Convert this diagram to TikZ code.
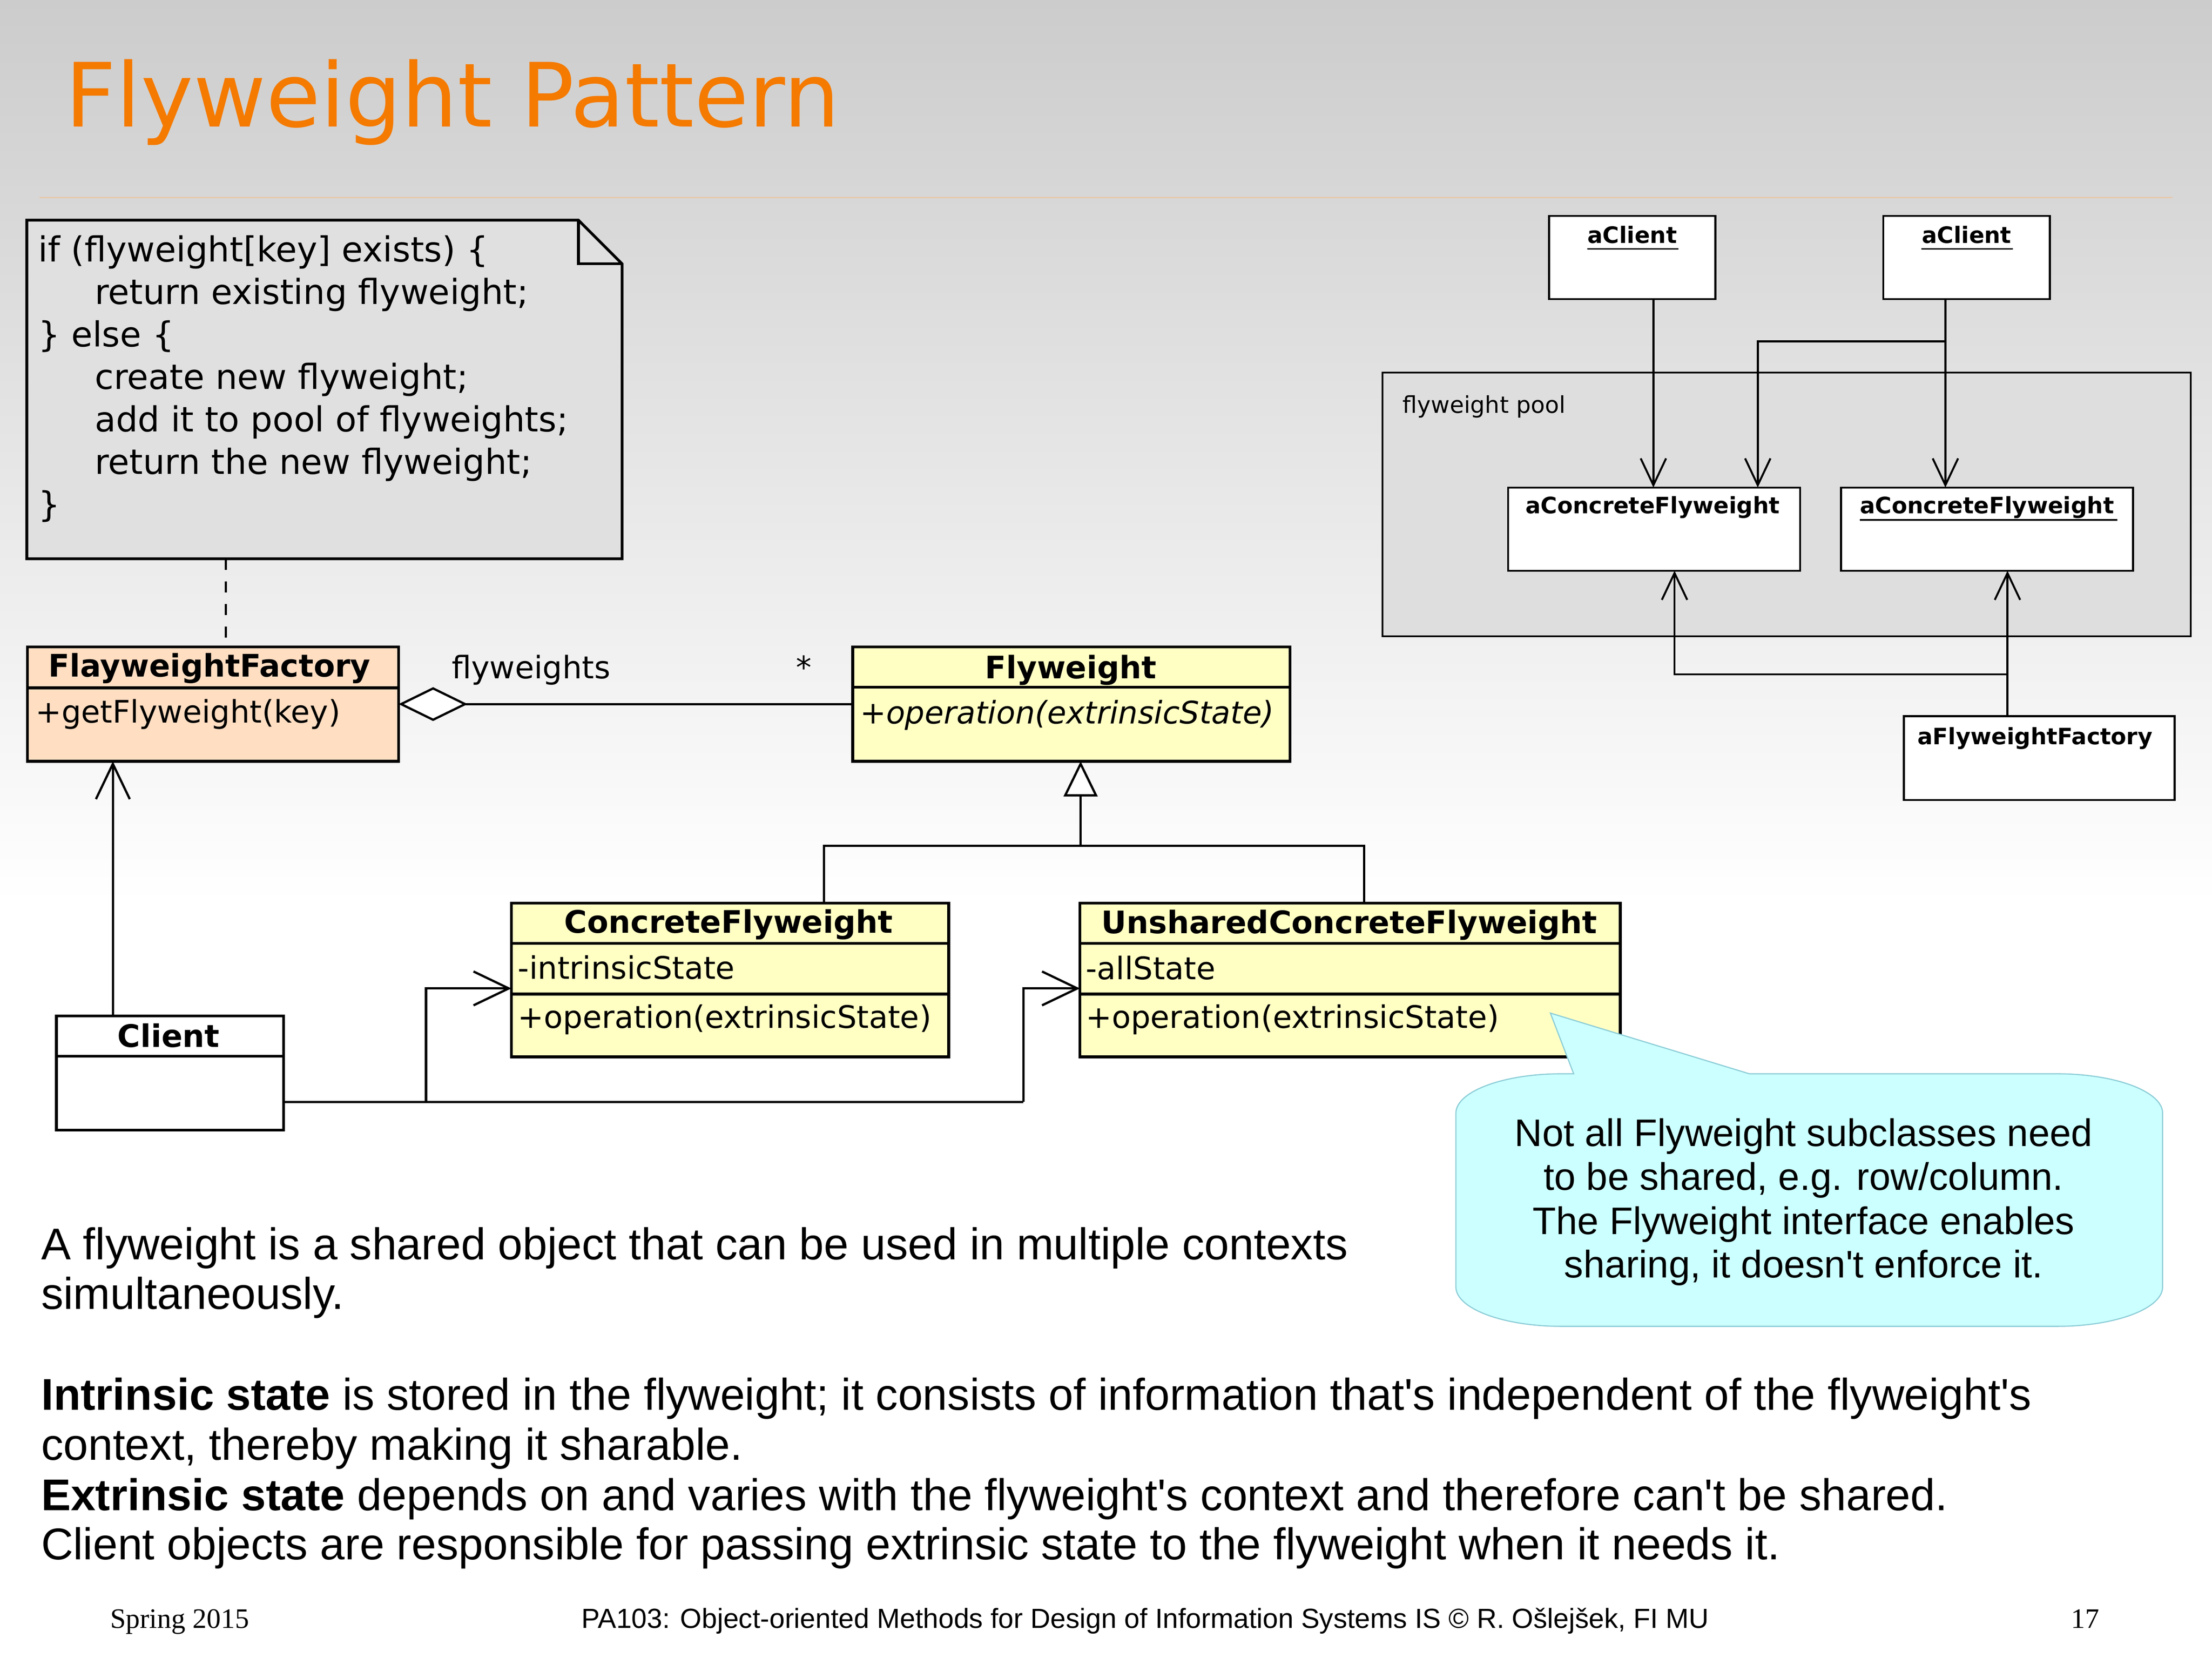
\documentclass[tikz,border=0pt]{standalone}
\usepackage{fontspec}
\setmainfont{Liberation Sans}[Ligatures=TeXOff]
\newfontfamily\dvfont{DejaVu Sans}[Ligatures=TeXOff]
\newfontfamily\serfont{Liberation Serif}[Ligatures=TeXOff]
\usetikzlibrary{arrows.meta,calc}
\definecolor{peach}{RGB}{255,222,194}
\definecolor{lyellow}{RGB}{255,255,196}
\definecolor{notegray}{RGB}{224,224,224}
\definecolor{poolgray}{RGB}{222,222,222}
\definecolor{bubblefill}{RGB}{204,255,255}
\definecolor{bubbleline}{RGB}{140,205,215}
\definecolor{titleorange}{RGB}{245,122,0}
\definecolor{rulecol}{RGB}{232,200,170}
\definecolor{topgray}{RGB}{204,204,204}
\begin{document}
\begin{tikzpicture}[x=1pt,y=-1pt,
  box/.style={draw, line width=2pt, inner sep=0pt, outer sep=0pt, anchor=north west},
  obj/.style={draw, line width=1.4pt, fill=white, inner sep=0pt, outer sep=0pt, anchor=north west},
  cname/.style={font=\dvfont\bfseries\fontsize{22}{26}\selectfont, anchor=base, inner sep=0pt},
  cmem/.style={font=\dvfont\fontsize{22}{26}\selectfont, anchor=base west, inner sep=0pt},
  notetext/.style={font=\dvfont\fontsize{24.5}{30}\selectfont, anchor=base west, inner sep=0pt},
  oname/.style={font=\dvfont\bfseries\fontsize{16}{19}\selectfont, anchor=base, inner sep=0pt},
  body/.style={font=\fontsize{31.5}{35.5}\selectfont, anchor=base west, inner sep=0pt},
  bub/.style={font=\fontsize{27.2}{31}\selectfont, anchor=base, inner sep=0pt},
  conn/.style={line width=1.6pt},
  oconn/.style={line width=1.4pt},
  divider/.style={line width=2pt},
  bigbarb/.tip={Straight Barb[length=25pt,width=24pt]},
  smallbarb/.tip={Straight Barb[length=19pt,width=18pt]},
]
\useasboundingbox (0,0) rectangle (1568,1175);
% background
\shade[top color=topgray, bottom color=white] (0,0) rectangle (1568,640);
\fill[white] (0,640) rectangle (1568,1175);
\draw[line width=0.8pt, rulecol] (28,140) -- (1540,140);

% title
\node[font=\dvfont\fontsize{62.9}{70}\selectfont, text=titleorange, anchor=base west, inner sep=0pt] (title) at (46,90) {Flyweight Pattern};

% note
\node[inner sep=0pt, outer sep=0pt, minimum width=422pt, minimum height=240pt, anchor=north west] (note) at (19,156) {};
\draw[line width=2pt, fill=notegray, line join=miter] (note.north west) -- ($(note.north east)+(-31,0)$) -- ($(note.north east)+(0,31)$) -- (note.south east) -- (note.south west) -- cycle;
\draw[line width=2pt] ($(note.north east)+(-31,0)$) -- ($(note.north east)+(-31,31)$) -- ($(note.north east)+(0,31)$);
\node[notetext] (nl1) at (27,185.6) {if (flyweight[key] exists) \{};
\node[notetext] (nl2) at (67,215.7) {return existing flyweight;};
\node[notetext] (nl3) at (27,245.8) {\} else \{};
\node[notetext] (nl4) at (67,275.9) {create new flyweight;};
\node[notetext] (nl5) at (67,306) {add it to pool of flyweights;};
\node[notetext] (nl6) at (67,336.1) {return the new flyweight;};
\node[notetext] (nl7) at (27,366.2) {\}};

% class boxes
\node[box, fill=peach, minimum width=263pt, minimum height=81pt] (fac) at (19.5,458.5) {};
\draw[divider] ($(fac.north west)+(0,29)$) -- ($(fac.north east)+(0,29)$);
\node[cname] (facname) at (148.5,479.5) {FlayweightFactory};
\node[cmem] (facop) at (25,512.4) {+getFlyweight(key)};

\node[box, fill=lyellow, minimum width=310pt, minimum height=81pt] (fw) at (604.5,458.5) {};
\draw[divider] ($(fw.north west)+(0,28.5)$) -- ($(fw.north east)+(0,28.5)$);
\node[cname] (fwname) at (759,480.8) {Flyweight};
\node[cmem] (fwop) at (609.5,513) {+\textit{operation(extrinsicState)}};

\node[box, fill=lyellow, minimum width=310pt, minimum height=109pt] (cf) at (362.5,640) {};
\draw[divider] ($(cf.north west)+(0,28.5)$) -- ($(cf.north east)+(0,28.5)$);
\draw[divider] ($(cf.north west)+(0,64.5)$) -- ($(cf.north east)+(0,64.5)$);
\node[cname] (cfname) at (516.5,661.3) {ConcreteFlyweight};
\node[cmem] (cfattr) at (367,693.8) {-intrinsicState};
\node[cmem] (cfop) at (367,728.5) {+operation(extrinsicState)};

\node[box, fill=lyellow, minimum width=383pt, minimum height=109pt] (ucf) at (765.5,640) {};
\draw[divider] ($(ucf.north west)+(0,28.5)$) -- ($(ucf.north east)+(0,28.5)$);
\draw[divider] ($(ucf.north west)+(0,64.5)$) -- ($(ucf.north east)+(0,64.5)$);
\node[cname] (ucfname) at (956.5,661.5) {UnsharedConcreteFlyweight};
\node[cmem] (ucfattr) at (769.5,694) {-allState};
\node[cmem] (ucfop) at (769.5,728.5) {+operation(extrinsicState)};

\node[box, fill=white, minimum width=161pt, minimum height=81pt] (client) at (40,720) {};
\draw[divider] ($(client.north west)+(0,28.5)$) -- ($(client.north east)+(0,28.5)$);
\node[cname] (clientname) at (119.5,742) {Client};

% connectors left
\draw[line width=1.6pt, dash pattern=on 8pt off 8pt] ($(note.south west)+(141,0)$) -- ($(fac.north west)+(140.5,0)$);
\draw[conn, {Diamond[fill=white,length=49pt,width=24pt]}-] ($(fac.north east)+(0,40.5)$) -- ($(fw.north west)+(0,40.5)$);
\node[cmem] (lblfw) at (320,481) {flyweights};
\node[cmem] (lblstar) at (564,481) {*};
\draw[conn, -{bigbarb}] ($(client.north west)+(40,0)$) -- ($(fac.south west)+(60.5,0)$);
\coordinate (g) at (766,599.5);
\draw[conn, -{Triangle[fill=white,length=25pt,width=24pt]}] (g) -- (g |- fw.south);
\coordinate (gl) at (584,599.5);
\coordinate (gr) at (967,599.5);
\draw[conn] (gl |- cf.north) -- (gl) -- (gr) -- (gr |- ucf.north);
\coordinate (j1) at (302,781);
\coordinate (j2) at (725.5,781);
\draw[conn] ($(client.north east)+(0,61)$) -- (j2);
\draw[conn, -{bigbarb}] (j1) |- ($(cf.north west)+(0,60.5)$);
\draw[conn, -{bigbarb}] (j2) |- ($(ucf.north west)+(0,60.5)$);

% speech bubble
\coordinate (tip) at (1099,718);
\draw[line width=0.8pt, bubbleline, fill=bubblefill] (1115.5,761) -- (tip) -- (1240,761) -- (1458,761)
  arc[start angle=-90, end angle=0, x radius=75, y radius=28] -- (1533,912)
  arc[start angle=0, end angle=90, x radius=75, y radius=28] -- (1107,940)
  arc[start angle=90, end angle=180, x radius=75, y radius=28] -- (1032,789)
  arc[start angle=180, end angle=270, x radius=75, y radius=28] -- cycle;
\node[bub] (b1) at (1278.5,812.3) {Not all Flyweight subclasses need};
\node[bub] (b2) at (1278.5,843.5) {to be shared, e.g. row/column.};
\node[bub] (b3) at (1278.5,874.8) {The Flyweight interface enables};
\node[bub] (b4) at (1278.5,905.6) {sharing, it doesn't enforce it.};

% right object diagram
\node[draw, line width=1.4pt, fill=poolgray, inner sep=0pt, outer sep=0pt, anchor=north west, minimum width=573pt, minimum height=187pt] (pool) at (980,264) {};
\node[font=\dvfont\fontsize{16.4}{19}\selectfont, anchor=base west, inner sep=0pt] (poollbl) at (994,292.7) {flyweight pool};
\node[obj, minimum width=118pt, minimum height=59pt] (ac1) at (1098,153) {};
\node[obj, minimum width=118pt, minimum height=59pt] (ac2) at (1335,153) {};
\node[obj, minimum width=207pt, minimum height=59pt] (acf1) at (1069,345.5) {};
\node[obj, minimum width=207pt, minimum height=59pt] (acf2) at (1305,345.5) {};
\node[obj, minimum width=192pt, minimum height=59.5pt] (afac) at (1349.5,507.5) {};
\node[oname] (ac1n) at (1157,172.4) {aClient};
\draw[line width=1pt] ($(ac1n.base west)+(0,4)$) -- ($(ac1n.base east)+(1,4)$);
\node[oname] (ac2n) at (1394,172.4) {aClient};
\draw[line width=1pt] ($(ac2n.base west)+(0,4)$) -- ($(ac2n.base east)+(1,4)$);
\node[oname] (acf1n) at (1171.5,364) {aConcreteFlyweight};
\node[oname] (acf2n) at (1408.5,364) {aConcreteFlyweight};
\draw[line width=1pt] ($(acf2n.base west)+(0,4.5)$) -- ($(acf2n.base east)+(2,4.5)$);
\node[oname] (afacn) at (1442.5,527.6) {aFlyweightFactory};

\draw[oconn, -{smallbarb}] ($(ac1.south west)+(74,0)$) -- ($(acf1.north west)+(103,0)$);
\draw[oconn, -{smallbarb}] ($(ac2.south west)+(44,0)$) -- ($(acf2.north west)+(74,0)$);
\coordinate (b1j) at (1379,242);
\draw[oconn, -{smallbarb}] (b1j) -| ($(acf1.north west)+(177,0)$);
\draw[oconn, -{smallbarb}] ($(afac.north west)+(73.5,0)$) -- ($(acf2.south west)+(118,0)$);
\coordinate (b2j) at (1423,478);
\draw[oconn, -{smallbarb}] (b2j) -| ($(acf1.south west)+(118,0)$);

% body text
\node[body] (t1) at (29,892.5) {A flyweight is a shared object that can be used in multiple contexts};
\node[body] (t2) at (29,927.9) {simultaneously.};
\node[body] (t3) at (29,999.4) {\textbf{Intrinsic state} is stored in the flyweight; it consists of information that's independent of the flyweight's};
\node[body] (t4) at (29,1034.7) {context, thereby making it sharable.};
\node[body] (t5) at (29,1070.4) {\textbf{Extrinsic state} depends on and varies with the flyweight's context and therefore can't be shared.};
\node[body] (t6) at (29,1105.3) {Client objects are responsible for passing extrinsic state to the flyweight when it needs it.};

% footer
\node[font=\serfont\fontsize{20}{24}\selectfont, anchor=base west, inner sep=0pt] (f1) at (78,1154) {Spring 2015};
\node[font=\fontsize{19.6}{24}\selectfont, anchor=base west, inner sep=0pt] (f2) at (412,1154) {PA103: Object-oriented Methods for Design of Information Systems IS © R. Ošlejšek, FI MU};
\node[font=\serfont\fontsize{20}{24}\selectfont, anchor=base west, inner sep=0pt] (f3) at (1468,1154) {17};
\end{tikzpicture}
\end{document}
